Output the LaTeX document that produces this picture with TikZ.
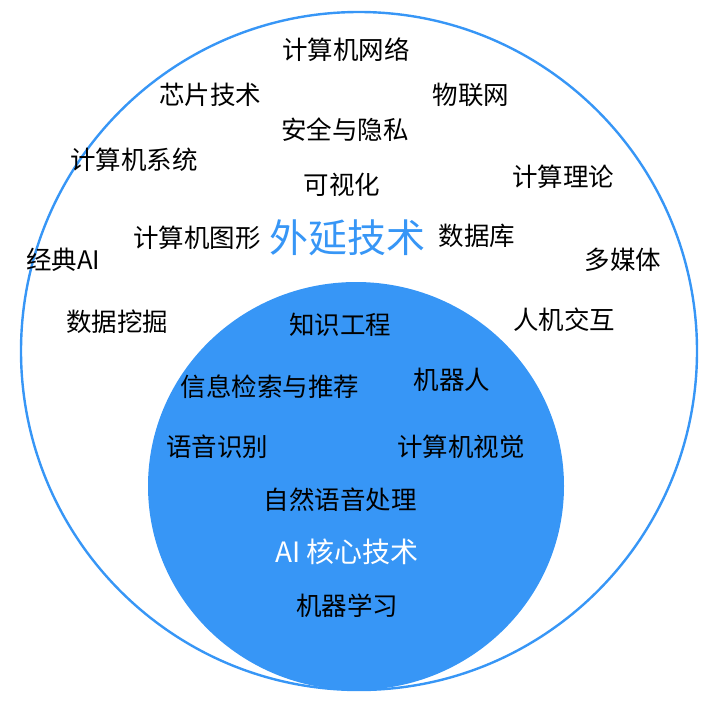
\documentclass[tikz,border=0pt]{standalone}
\usepackage{fontspec}
\setmainfont{Noto Sans CJK SC}
\definecolor{coreblue}{HTML}{3796F6}

\begin{document}
\begin{tikzpicture}[x = 1pt, y = -1pt, every node/.style={inner sep = 1pt, align = center, font = \fontsize{25.5}{28}\selectfont}]

  \useasboundingbox (0, 0) rectangle (701, 701);

  \draw [coreblue, line width = 2.4pt] (359, 351) ellipse [x radius = 338, y radius = 339];
  \fill [coreblue] (356, 486) ellipse [x radius = 208, y radius = 204];

  % outer ring
  \node (net)    at (349,  50) { 计算机网络 };
  \node (chip)   at (213,  95) { 芯片技术 };
  \node (iot)    at (474,  95) { 物联网 };
  \node (sec)    at (348, 130) { 安全与隐私 };
  \node (sys)    at (137, 160) { 计算机系统 };
  \node (theory) at (566, 177) { 计算理论 };
  \node (vis)    at (345, 185) { 可视化 };
  \node (graph)  at (200, 238) { 计算机图形 };
  \node (db)     at (480, 236) { 数据库 };
  \node (clai)   at ( 66, 260) { 经典AI };
  \node (media)  at (626, 260) { 多媒体 };
  \node (mining) at (120, 322) { 数据挖掘 };
  \node (hci)    at (567, 320) { 人机交互 };

  \node [text = coreblue, font = \fontsize{39}{42}\selectfont] (outer) at (352, 238) { 外延技术 };

  % core
  \node (ke)     at (343, 325) { 知识工程 };
  \node (ir)     at (273, 387) { 信息检索与推荐 };
  \node (robot)  at (455, 380) { 机器人 };
  \node (asr)    at (220, 447) { 语音识别 };
  \node (cv)     at (464, 447) { 计算机视觉 };
  \node (nlp)    at (343, 500) { 自然语音处理 };
  \node (ml)     at (350, 606) { 机器学习 };

  \node [text = white, font = \fontsize{28}{31}\selectfont] (core) at (350, 552) { AI 核心技术 };

\end{tikzpicture}
\end{document}
